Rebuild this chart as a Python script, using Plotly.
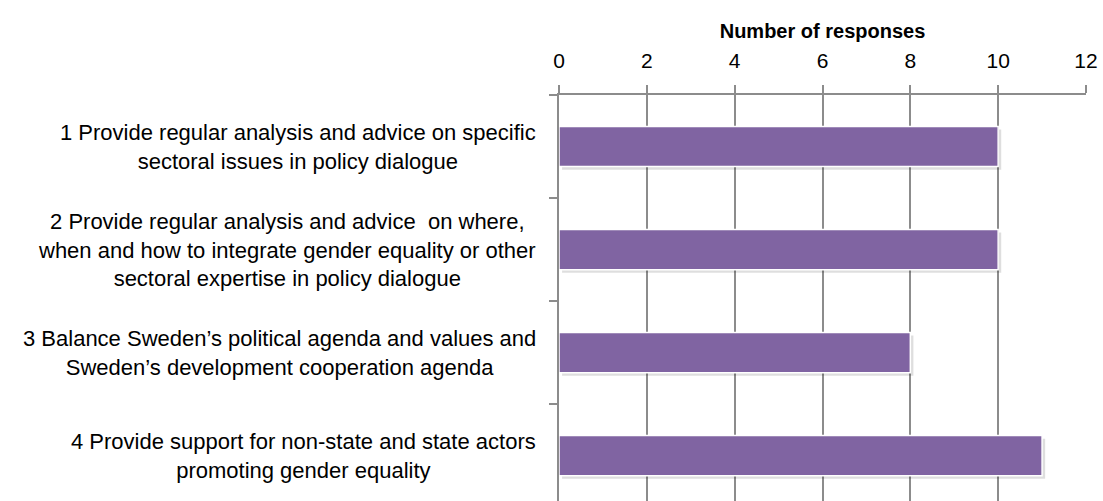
import plotly.graph_objects as go

categories = [
    "1 Provide regular analysis and advice on specific<br>sectoral issues in policy dialogue",
    "2 Provide regular analysis and advice  on where,<br>when and how to integrate gender equality or other<br>sectoral expertise in policy dialogue",
    "3 Balance Sweden\u2019s political agenda and values and<br>Sweden\u2019s development cooperation agenda",
    "4 Provide support for non-state and state actors<br>promoting gender equality",
]
values = [10, 10, 8, 11]
tick_vals = [0, 2, 4, 6, 8, 10, 12]
axis_title = "Number of responses"

FONT = "Liberation Sans, Arial, sans-serif"
keys = [f"c{i}" for i in range(len(categories))]

fig = go.Figure()
# soft drop shadow behind each bar
fig.add_trace(go.Bar(
    x=values, y=keys, orientation="h",
    base=0.07, width=0.39, offset=-0.195 + 0.03,
    marker=dict(color="rgba(0,0,0,0.13)", line=dict(width=0)),
    hoverinfo="skip",
))
fig.add_trace(go.Bar(
    x=values, y=keys, orientation="h",
    width=0.39, offset=-0.195,
    marker=dict(color="#8064A2", line=dict(color="white", width=1.5)),
    hoverinfo="skip",
))

for k, lab in zip(keys, categories):
    fig.add_annotation(
        x=0, xref="paper", y=k, yref="y",
        text=lab, showarrow=False, xanchor="right", yanchor="middle",
        align="center", xshift=-21,
        font=dict(family=FONT, size=22, color="#000000"),
    )

fig.update_layout(
    width=1103, height=501,
    margin=dict(l=559, r=17, t=95, b=0),
    plot_bgcolor="white", paper_bgcolor="white",
    showlegend=False,
    barmode="overlay",
    font=dict(family=FONT, color="#000000"),
)
fig.update_xaxes(
    side="top", range=[0, 12], tickvals=tick_vals,
    showgrid=True, gridcolor="#8c8c8c", gridwidth=1.5,
    showline=True, linecolor="#8c8c8c", linewidth=1.5,
    ticks="outside", ticklen=8, tickcolor="#8c8c8c", tickwidth=1.5,
    tickfont=dict(family=FONT, size=21, color="#000000"),
    ticklabelstandoff=9,
    zeroline=False,
    title=dict(text="<b>" + axis_title + "</b>", font=dict(family=FONT, size=20, color="#000000"), standoff=5),
)
fig.update_yaxes(
    type="category", categoryorder="array", categoryarray=keys,
    range=[3.44, -0.5],
    showticklabels=False,
    showline=True, linecolor="#8c8c8c", linewidth=1.5,
    ticks="outside", ticklen=8, tickcolor="#8c8c8c", tickwidth=1.5,
    tickson="boundaries",
    showgrid=False, zeroline=False,
)

fig.write_html(
    "out.html",
    config={"displayModeBar": False},
    post_script="document.body.style.margin='0';document.body.style.overflow='hidden';",
)
